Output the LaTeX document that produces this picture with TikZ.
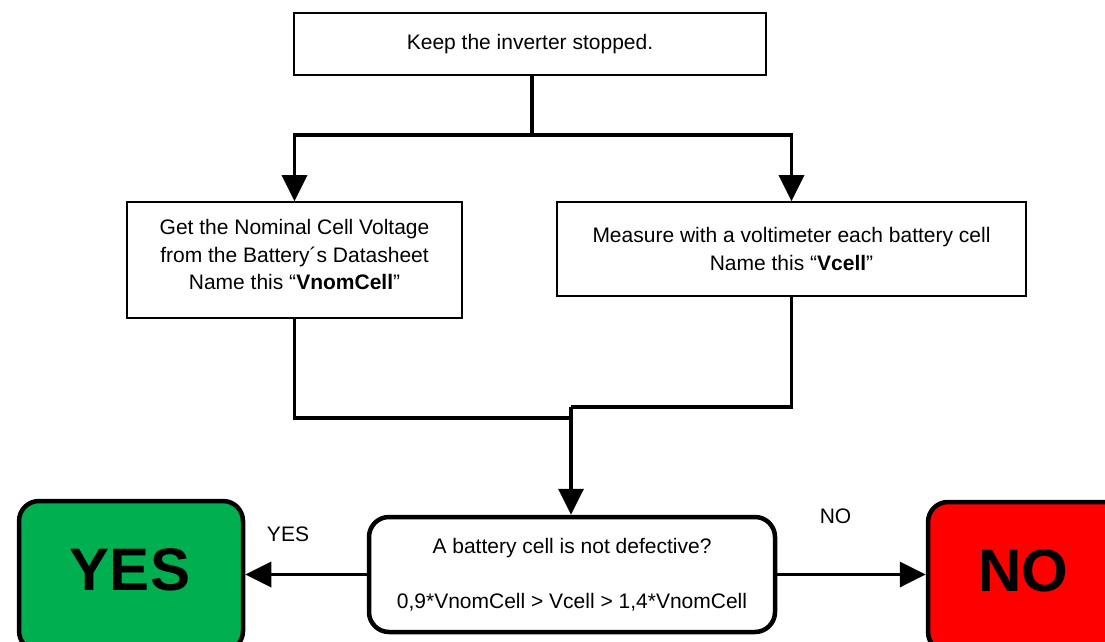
\documentclass[tikz,border=0pt]{standalone}
\usepackage{fontspec}
\setmainfont{Liberation Sans}
\usetikzlibrary{arrows.meta,positioning}
\definecolor{okgreen}{HTML}{00B050}
\definecolor{badred}{HTML}{FF0000}
\tikzset{
  txt/.style={font=\fontsize{21}{27.5}\selectfont, align=center, inner sep=0pt},
  stepbox/.style={draw, line width=1.6pt, inner sep=0pt, txt},
  decbox/.style={draw, line width=4.5pt, rounded corners=20pt, fill=white, inner sep=0pt, txt},
  endbox/.style={draw, line width=4.5pt, rounded corners=20pt, inner sep=0pt},
  bigtxt/.style={font=\fontsize{60}{60}\selectfont\bfseries, inner sep=0pt},
  wire/.style={line width=3.6pt},
  flow/.style={wire, -{Triangle[length=26pt,width=25pt]}},
}
\begin{document}
\begin{tikzpicture}[x=1pt, y=-1pt]
\useasboundingbox (0,0) rectangle (1105,642);
\clip (0,0) rectangle (1105,642);

% process steps
\node[stepbox, minimum width=472pt, minimum height=62pt] (keep) at (530,44) {Keep the inverter stopped.};
\node[stepbox, minimum width=335pt, minimum height=116pt] (get) at (294.5,260) {};
\node[txt] (gettxt) at (294.5,254.5) {Get the Nominal Cell Voltage\\from the Battery´s Datasheet\\Name this “\textbf{VnomCell}”};
\node[stepbox, minimum width=469pt, minimum height=94pt] (meas) at (791.5,249) {Measure with a voltimeter each battery cell\\Name this “\textbf{Vcell}”};

% decision
\node[decbox, minimum width=406pt, minimum height=115pt] (dec) at (572,574.5) {A battery cell is not defective?\\[27.5pt]0,9*VnomCell > Vcell > 1,4*VnomCell};

% outcomes
\node[endbox, fill=okgreen, minimum width=224pt, minimum height=150pt] (yes) at (131,576) {};
\node[bigtxt] (yestxt) at (130,569.5) {YES};
\node[endbox, fill=badred, minimum width=224pt, minimum height=150pt] (no) at (1040,577) {};
\node[bigtxt] (notxt) at (1023.5,570.5) {NO};

% branch labels
\node[txt] (yeslbl) at (288,534.5) {YES};
\node[txt] (nolbl) at (835.5,516.5) {NO};

% connectors
\coordinate (split) at (532,135);
\coordinate (merge) at (571,407);
\draw[wire] (keep.south -| split) -- (split);
\draw[flow] (split) -| (get.north);
\draw[flow] (split) -| (meas.north);
\draw[wire] (meas.south) |- (merge);
\draw[wire] (get.south) |- (merge |- 0,418) -- (merge);
\draw[flow] (merge) -- (dec.north -| merge);
\draw[flow] (dec.west) -- (dec.west -| yes.east);
\draw[flow] (dec.east) -- (dec.east -| no.west);
\end{tikzpicture}
\end{document}
